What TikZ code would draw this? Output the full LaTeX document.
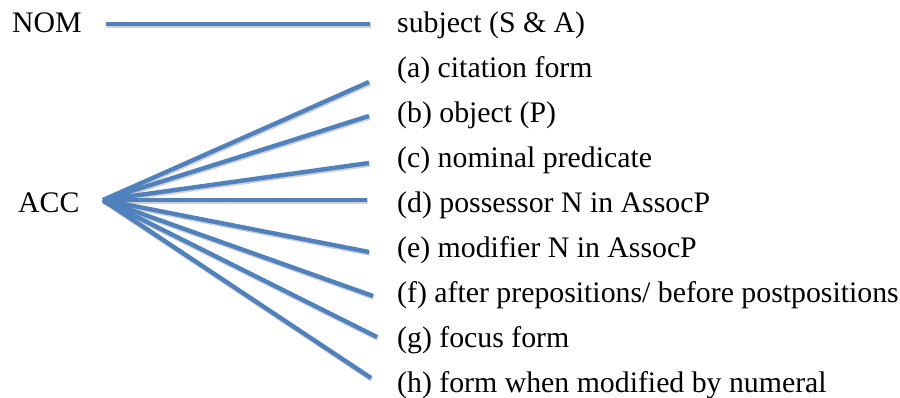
\documentclass[tikz,border=0pt]{standalone}
\usepackage{fontspec}
\setmainfont{Liberation Serif}
\definecolor{linkblue}{HTML}{4F81BD}
\begin{document}
\begin{tikzpicture}[x=1pt,y=-1pt,
  lbl/.style={anchor=base west,inner sep=0pt,font=\fontsize{29.8}{31}\selectfont},
  link/.style={draw=linkblue,line width=4.4pt},
  linkshade/.style={draw=black,opacity=0.18,line width=4.6pt,transform canvas={shift={(0.8pt,-1.6pt)}}}]
\useasboundingbox (0,0) rectangle (900,398);
% case labels
\node[lbl] (nom) at (12,33) {NOM};
\node[lbl] (acc) at (18,212.7) {ACC};
% function labels
\node[lbl] (subj) at (397,33) {subject (S \& A)};
\node[lbl] (fa) at (397,78) {(a) citation form};
\node[lbl] (fb) at (397,122.9) {(b) object (P)};
\node[lbl] (fc) at (397,167.8) {(c) nominal predicate};
\node[lbl] (fd) at (397,212.7) {(d) possessor N in AssocP};
\node[lbl] (fe) at (397,257.6) {(e) modifier N in AssocP};
\node[lbl] (ff) at (397,302.5) {(f) after prepositions/ before postpositions};
\node[lbl] (fg) at (397,347.4) {(g) focus form};
\node[lbl] (fh) at (397,392.3) {(h) form when modified by numeral};
% connector end points
\coordinate (nomA) at (106,24);
\coordinate (nomB) at (370,24);
\coordinate (apex) at (103,200);
\coordinate (ea) at (369,82);
\coordinate (eb) at (369,116);
\coordinate (ec) at (369,163);
\coordinate (ed) at (367,200);
\coordinate (ee) at (369,252);
\coordinate (ef) at (373,296);
\coordinate (eg) at (377,337);
\coordinate (eh) at (371,378);
% soft shadows under the connectors
\draw[linkshade] (nomA) -- (nomB);
\foreach \e in {ea,eb,ec,ed,ee,ef,eg,eh}
  \draw[linkshade] (apex) -- (\e);
% connectors
\draw[link] (nomA) -- (nomB);
\foreach \e in {ea,eb,ec,ed,ee,ef,eg,eh}
  \draw[link] (apex) -- (\e);
\end{tikzpicture}
\end{document}
